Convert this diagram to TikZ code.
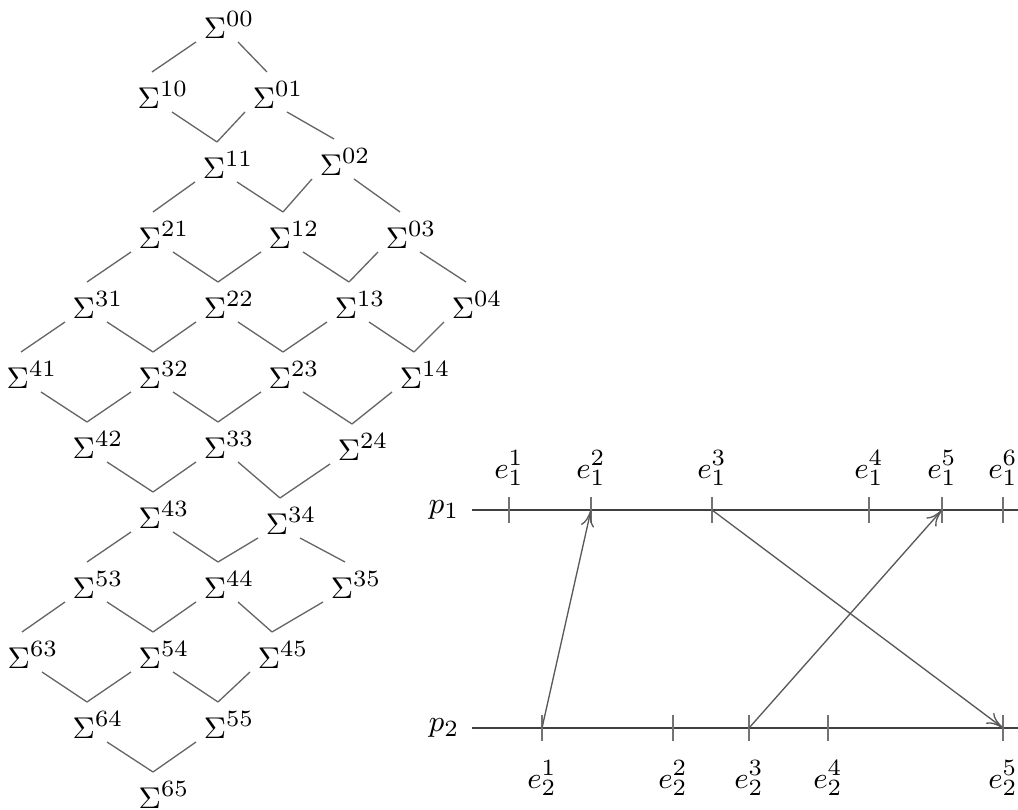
\documentclass[tikz,border=0pt]{standalone}
\usetikzlibrary{calc,arrows.meta}
\DeclareMathSizes{9}{9}{7}{5}
\newcommand\edgeL[2]{\draw[latt] ($(#1)+(-33,17)$) -- ($(#2)+(-11,-23)$);}
\newcommand\edgeR[2]{\draw[latt] ($(#1)+(9,17)$) -- ($(#2)+(-11,-23)$);}
\newcommand\tickat[1]{\draw[tickmark] ($(#1)+(0,-13)$) -- ($(#1)+(0,13)$);}
\begin{document}
\begin{tikzpicture}[x=0.3pt,y=-0.3pt,
  sig/.style={inner sep=0pt, font=\fontsize{9}{11}\selectfont},
  lab/.style={inner sep=0pt, font=\fontsize{9}{11}\selectfont},
  latt/.style={draw=black!60, line width=0.4pt},
  procline/.style={draw=black!75, line width=0.4pt},
  tickmark/.style={draw=black!55, line width=0.4pt},
  msg/.style={draw=black!65, line width=0.4pt, -{To[length=5pt,width=4pt]}}]
\useasboundingbox (0,0) rectangle (1018,810);
% lattice nodes
\node[sig] (s00) at (229,25) {$\Sigma^{00}$};
\node[sig] (s10) at (163,95) {$\Sigma^{10}$};
\node[sig] (s01) at (278,95) {$\Sigma^{01}$};
\node[sig] (s11) at (228,165) {$\Sigma^{11}$};
\node[sig] (s02) at (345,162) {$\Sigma^{02}$};
\node[sig] (s21) at (164,235) {$\Sigma^{21}$};
\node[sig] (s12) at (294,235) {$\Sigma^{12}$};
\node[sig] (s03) at (411,235) {$\Sigma^{03}$};
\node[sig] (s31) at (98,305) {$\Sigma^{31}$};
\node[sig] (s22) at (229,305) {$\Sigma^{22}$};
\node[sig] (s13) at (360,305) {$\Sigma^{13}$};
\node[sig] (s04) at (477,305) {$\Sigma^{04}$};
\node[sig] (s41) at (32,375) {$\Sigma^{41}$};
\node[sig] (s32) at (164,375) {$\Sigma^{32}$};
\node[sig] (s23) at (294,375) {$\Sigma^{23}$};
\node[sig] (s14) at (425,375) {$\Sigma^{14}$};
\node[sig] (s42) at (98,445) {$\Sigma^{42}$};
\node[sig] (s33) at (229,445) {$\Sigma^{33}$};
\node[sig] (s24) at (363,447) {$\Sigma^{24}$};
\node[sig] (s43) at (164,515) {$\Sigma^{43}$};
\node[sig] (s34) at (291,521) {$\Sigma^{34}$};
\node[sig] (s53) at (98,585) {$\Sigma^{53}$};
\node[sig] (s44) at (229,585) {$\Sigma^{44}$};
\node[sig] (s35) at (356,585) {$\Sigma^{35}$};
\node[sig] (s63) at (33,655) {$\Sigma^{63}$};
\node[sig] (s54) at (164,655) {$\Sigma^{54}$};
\node[sig] (s45) at (283,655) {$\Sigma^{45}$};
\node[sig] (s64) at (98,725) {$\Sigma^{64}$};
\node[sig] (s55) at (229,725) {$\Sigma^{55}$};
\node[sig] (s65) at (164,795) {$\Sigma^{65}$};
% lattice edges (i+1)
\edgeL{s00}{s10}\edgeL{s01}{s11}\edgeL{s02}{s12}\edgeL{s03}{s13}\edgeL{s04}{s14}
\edgeL{s11}{s21}\edgeL{s12}{s22}\edgeL{s13}{s23}\edgeL{s14}{s24}
\edgeL{s21}{s31}\edgeL{s22}{s32}\edgeL{s23}{s33}\edgeL{s24}{s34}
\edgeL{s31}{s41}\edgeL{s32}{s42}\edgeL{s33}{s43}\edgeL{s34}{s44}\edgeL{s35}{s45}
\edgeL{s43}{s53}\edgeL{s44}{s54}\edgeL{s45}{s55}
\edgeL{s53}{s63}\edgeL{s54}{s64}\edgeL{s55}{s65}
% lattice edges (j+1)
\edgeR{s00}{s01}\edgeR{s01}{s02}\edgeR{s10}{s11}\edgeR{s11}{s12}\edgeR{s02}{s03}
\edgeR{s21}{s22}\edgeR{s12}{s13}\edgeR{s03}{s04}
\edgeR{s31}{s32}\edgeR{s22}{s23}\edgeR{s13}{s14}
\edgeR{s41}{s42}\edgeR{s32}{s33}\edgeR{s23}{s24}
\edgeR{s42}{s43}\edgeR{s33}{s34}
\edgeR{s43}{s44}\edgeR{s34}{s35}
\edgeR{s53}{s54}\edgeR{s44}{s45}
\edgeR{s63}{s64}\edgeR{s54}{s55}
\edgeR{s64}{s65}
% process lines
\node[lab] (p1) at (444,510) {$p_1$};
\node[lab] (p2) at (444,728) {$p_2$};
\coordinate (l1s) at (472,510);
\coordinate (l1e) at (1018,510);
\coordinate (l2s) at (472,728);
\coordinate (l2e) at (1018,728);
\draw[procline] (l1s) -- (l1e);
\draw[procline] (l2s) -- (l2e);
% events on p1
\coordinate (a1) at (509,510);
\coordinate (a2) at (591,510);
\coordinate (a3) at (712,510);
\coordinate (a4) at (869,510);
\coordinate (a5) at (942,510);
\coordinate (a6) at (1003,510);
% events on p2
\coordinate (b1) at (542,728);
\coordinate (b2) at (673,728);
\coordinate (b3) at (749,728);
\coordinate (b4) at (828,728);
\coordinate (b5) at (1003,728);
\tickat{a1}\tickat{a2}\tickat{a3}\tickat{a4}\tickat{a5}\tickat{a6}
\tickat{b1}\tickat{b2}\tickat{b3}\tickat{b4}\tickat{b5}
\node[lab] (ea1) at (509,468) {$e_1^1$};
\node[lab] (ea2) at (591,468) {$e_1^2$};
\node[lab] (ea3) at (712,468) {$e_1^3$};
\node[lab] (ea4) at (869,468) {$e_1^4$};
\node[lab] (ea5) at (942,468) {$e_1^5$};
\node[lab] (ea6) at (1003,468) {$e_1^6$};
\node[lab] (eb1) at (542,778) {$e_2^1$};
\node[lab] (eb2) at (673,778) {$e_2^2$};
\node[lab] (eb3) at (749,778) {$e_2^3$};
\node[lab] (eb4) at (828,778) {$e_2^4$};
\node[lab] (eb5) at (1003,778) {$e_2^5$};
% messages
\draw[msg] (b1) -- (a2);
\draw[msg] (a3) -- (b5);
\draw[msg] (b3) -- (a5);
\end{tikzpicture}
\end{document}
